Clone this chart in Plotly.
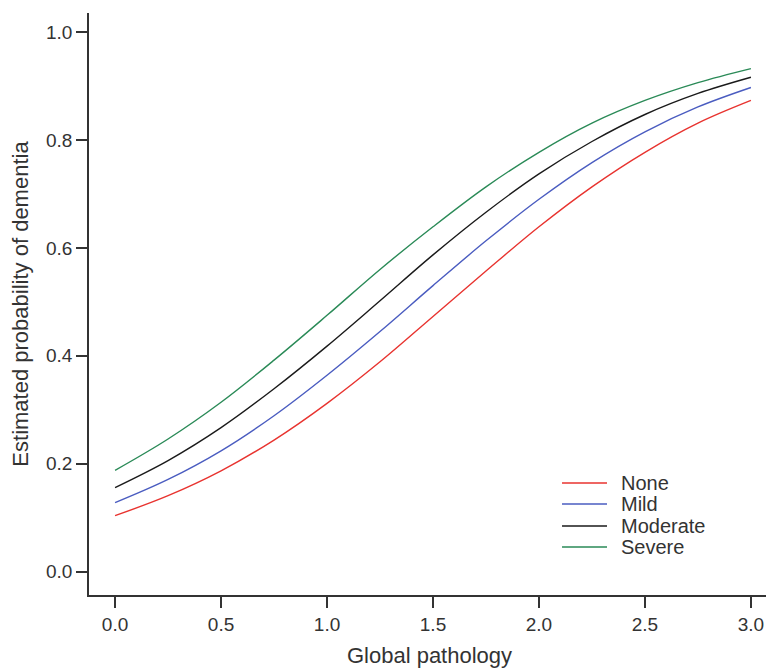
import plotly.graph_objects as go

x_vals = [0.0, 0.25, 0.5, 0.75, 1.0, 1.25, 1.5, 1.75, 2.0, 2.25, 2.5, 2.75, 3.0]
none_vals = [0.104, 0.141, 0.187, 0.244, 0.312, 0.389, 0.473, 0.557, 0.639, 0.713, 0.777, 0.831, 0.873]
mild_vals = [0.128, 0.171, 0.224, 0.289, 0.364, 0.445, 0.530, 0.613, 0.690, 0.758, 0.815, 0.861, 0.897]
moderate_vals = [0.156, 0.206, 0.267, 0.339, 0.418, 0.502, 0.587, 0.666, 0.737, 0.797, 0.847, 0.886, 0.916]
severe_vals = [0.188, 0.246, 0.314, 0.392, 0.475, 0.560, 0.639, 0.713, 0.777, 0.831, 0.873, 0.906, 0.932]

series_names = ["None", "Mild", "Moderate", "Severe"]
series_colors = ["#e8332f", "#4a5cc0", "#1a1a1a", "#2a8a57"]
x_ticks = [0.0, 0.5, 1.0, 1.5, 2.0, 2.5, 3.0]
y_ticks = [0.0, 0.2, 0.4, 0.6, 0.8, 1.0]

FONT = "Liberation Sans, Arial, Helvetica, sans-serif"
TXT = "#333333"

fig = go.Figure()
for name, vals, col in zip(series_names, [none_vals, mild_vals, moderate_vals, severe_vals], series_colors):
    fig.add_trace(go.Scatter(x=x_vals, y=vals, mode="lines", name=name, showlegend=False,
                             line=dict(color=col, width=1.4, shape="spline", smoothing=1.0)))

# manual legend (paper coordinates)
leg_rows = [0.1924, 0.1564, 0.1186, 0.0825]
shapes = []
annotations = []
for name, col, yy in zip(series_names, series_colors, leg_rows):
    shapes.append(dict(type="line", xref="paper", yref="paper", x0=0.6946, x1=0.7607, y0=yy, y1=yy,
                       line=dict(color=col, width=1.4)))
    annotations.append(dict(xref="paper", yref="paper", x=0.7783, y=yy, xanchor="left", yanchor="middle",
                            text=name, showarrow=False, font=dict(family=FONT, size=20, color=TXT)))

axis_common = dict(showline=True, linecolor=TXT, linewidth=1.5, ticks="outside",
                   ticklen=11, tickwidth=1.5, tickcolor=TXT, showgrid=False, zeroline=False,
                   tickfont=dict(family=FONT, size=19, color=TXT), automargin=False,
                   mirror=False)

# page body has an 8px default margin, so the figure is sized to fit the window
fig.update_layout(
    width=766, height=662,
    margin=dict(l=81, r=4, t=5, b=75),
    paper_bgcolor="white", plot_bgcolor="white",
    font=dict(family=FONT, color=TXT),
    xaxis=dict(range=[-0.123, 3.09], tickvals=x_ticks, ticktext=[f"{v:.1f}" for v in x_ticks],
               title=dict(text="Global pathology", font=dict(family=FONT, size=22, color=TXT), standoff=14),
               **axis_common),
    yaxis=dict(range=[-0.043, 1.035], tickvals=y_ticks, ticktext=[f"{v:.1f}" for v in y_ticks],
               title=dict(text="Estimated probability of dementia", font=dict(family=FONT, size=22, color=TXT), standoff=12),
               **axis_common),
    shapes=shapes,
    annotations=annotations,
    showlegend=False,
)

fig.write_html("out.html")
